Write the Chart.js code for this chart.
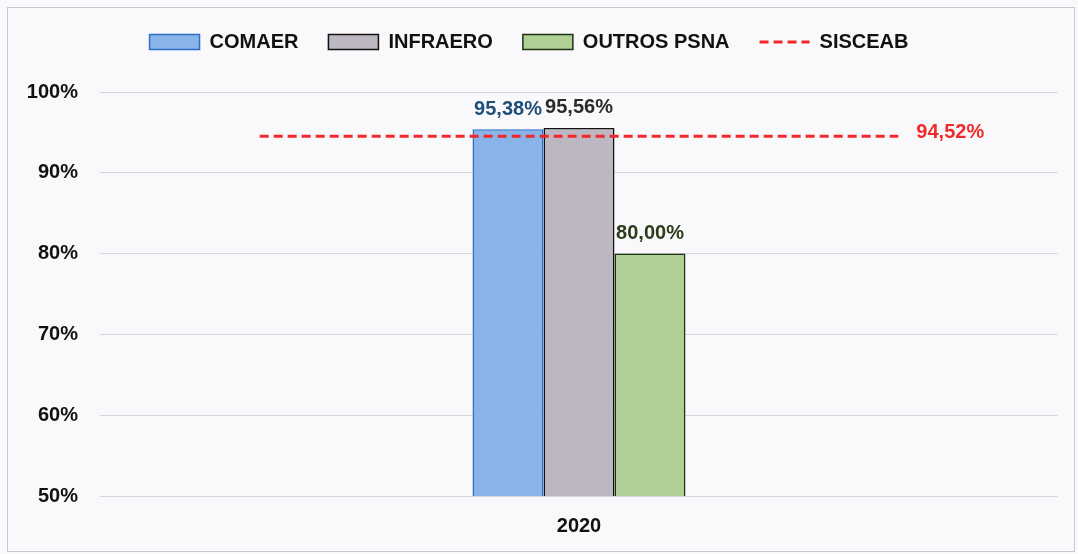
<!DOCTYPE html>
<html>
<head>
<meta charset="utf-8">
<script src="https://cdn.jsdelivr.net/npm/chart.js@4.4.1/dist/chart.umd.min.js"></script>
<style>
  body { margin: 0; background: #f9f9fb; }
  #wrap { position: relative; width: 1078px; height: 554px; }
  #frame { position: absolute; left: 7px; top: 7px; width: 1066px; height: 543px; border: 1px solid #c9c9cd; }
  canvas { position: absolute; left: 0; top: 0; }
</style>
</head>
<body>
<div id="wrap">
  <div id="frame"></div>
  <canvas id="mychart" width="1078" height="554"></canvas>
</div>
<script>
// empty side slots so the SISCEAB line spans past the bars like in the original
var years = ["", "2020", ""];
var comaer = [null, 95.38, null];
var infraero = [null, 95.56, null];
var outrosPsna = [null, 80.00, null];
var sisceab = [94.52, 94.52, 94.52];
var yTicks = [50, 60, 70, 80, 90, 100];

var FONT = '"Liberation Sans", Arial, sans-serif';

function fmt(v) {
  return v.toFixed(2).replace('.', ',') + '%';
}

var valueLabels = {
  id: 'valueLabels',
  afterDatasetsDraw: function(chart) {
    var ctx = chart.ctx;
    ctx.save();
    ctx.font = 'bold 20px ' + FONT;
    chart.data.datasets.forEach(function(ds, i) {
      var meta = chart.getDatasetMeta(i);
      ctx.fillStyle = ds.labelColor;
      if (ds.type === 'line') {
        var n = ds.data.length - 1;
        var last = meta.data[n];
        ctx.textAlign = 'left';
        ctx.textBaseline = 'middle';
        ctx.fillText(fmt(ds.data[n]), last.x + 18, last.y - 4);
      } else {
        meta.data.forEach(function(el, j) {
          if (ds.data[j] == null) return;
          ctx.textAlign = 'center';
          ctx.textBaseline = 'bottom';
          ctx.fillText(fmt(ds.data[j]), el.x, el.y - 10);
        });
      }
    });
    ctx.restore();
  }
};

var legendSize = {
  id: 'legendSize',
  beforeInit: function(chart) {
    var lg = chart.legend;
    if (!lg) return;
    var fit = lg.fit;
    lg.fit = function() {
      fit.call(this);
      this.height = 90;
    };
  }
};

var ctx = document.getElementById("mychart");
var data = {
  labels: years,
  datasets: [
    {
      label: 'COMAER',
      data: comaer,
      backgroundColor: '#88b4e9',
      borderColor: '#2f6ec4',
      borderWidth: 1.5,
      labelColor: '#1f4e79',
      order: 1
    },
    {
      label: 'INFRAERO',
      data: infraero,
      backgroundColor: '#bdb7c2',
      borderColor: '#111111',
      borderWidth: 1.5,
      labelColor: '#2a2a2a',
      order: 1
    },
    {
      label: 'OUTROS PSNA',
      data: outrosPsna,
      backgroundColor: '#afcf96',
      borderColor: '#1c3310',
      borderWidth: 1.5,
      labelColor: '#2c3d1c',
      order: 1
    },
    {
      type: 'line',
      label: 'SISCEAB',
      data: sisceab,
      borderColor: '#f2262b',
      backgroundColor: '#f2262b',
      borderWidth: 3,
      borderDash: [9, 5],
      pointRadius: 0,
      fill: false,
      labelColor: '#ee2a2a',
      order: 0
    }
  ]
};

var myChart = new Chart(ctx, {
  type: 'bar',
  data: data,
  plugins: [legendSize, valueLabels],
  options: {
    responsive: false,
    animation: false,
    layout: { padding: { top: 2, right: 20, left: 0, bottom: 0 } },
    datasets: {
      bar: { barPercentage: 1, categoryPercentage: 0.667 }
    },
    plugins: {
      tooltip: { enabled: false },
      legend: {
        position: 'top',
        labels: {
          usePointStyle: true,
          pointStyleWidth: 50,
          boxHeight: 15,
          padding: 30,
          color: '#111',
          font: { family: FONT, size: 20, weight: 'bold' },
          generateLabels: function(chart) {
            var items = Chart.defaults.plugins.legend.labels.generateLabels(chart);
            items.forEach(function(it) {
              var ds = chart.data.datasets[it.datasetIndex];
              if (ds.type === 'line') {
                it.pointStyle = 'line';
                it.lineWidth = 3;
                it.lineDash = ds.borderDash;
                it.strokeStyle = ds.borderColor;
              } else {
                it.pointStyle = 'rect';
                it.lineWidth = 1.5;
              }
            });
            items.sort(function(a, b) { return a.datasetIndex - b.datasetIndex; });
            return items;
          }
        }
      }
    },
    scales: {
      x: {
        offset: true,
        grid: { display: false, drawTicks: false },
        border: { display: false },
        ticks: { color: '#111', padding: 18, font: { family: FONT, size: 20, weight: 'bold' } },
        afterFit: function(s) { s.height = 58; }
      },
      y: {
        min: 50,
        max: 100,
        afterBuildTicks: function(s) {
          s.ticks = yTicks.map(function(v) { return { value: v }; });
        },
        grid: { color: '#d6d6dc', lineWidth: 1, drawTicks: false },
        border: { display: false },
        ticks: {
          color: '#111',
          padding: 22,
          font: { family: FONT, size: 20, weight: 'bold' },
          callback: function(v) { return v + '%'; }
        },
        afterFit: function(s) { s.width = 100; }
      }
    }
  }
});
</script>
</body>
</html>
